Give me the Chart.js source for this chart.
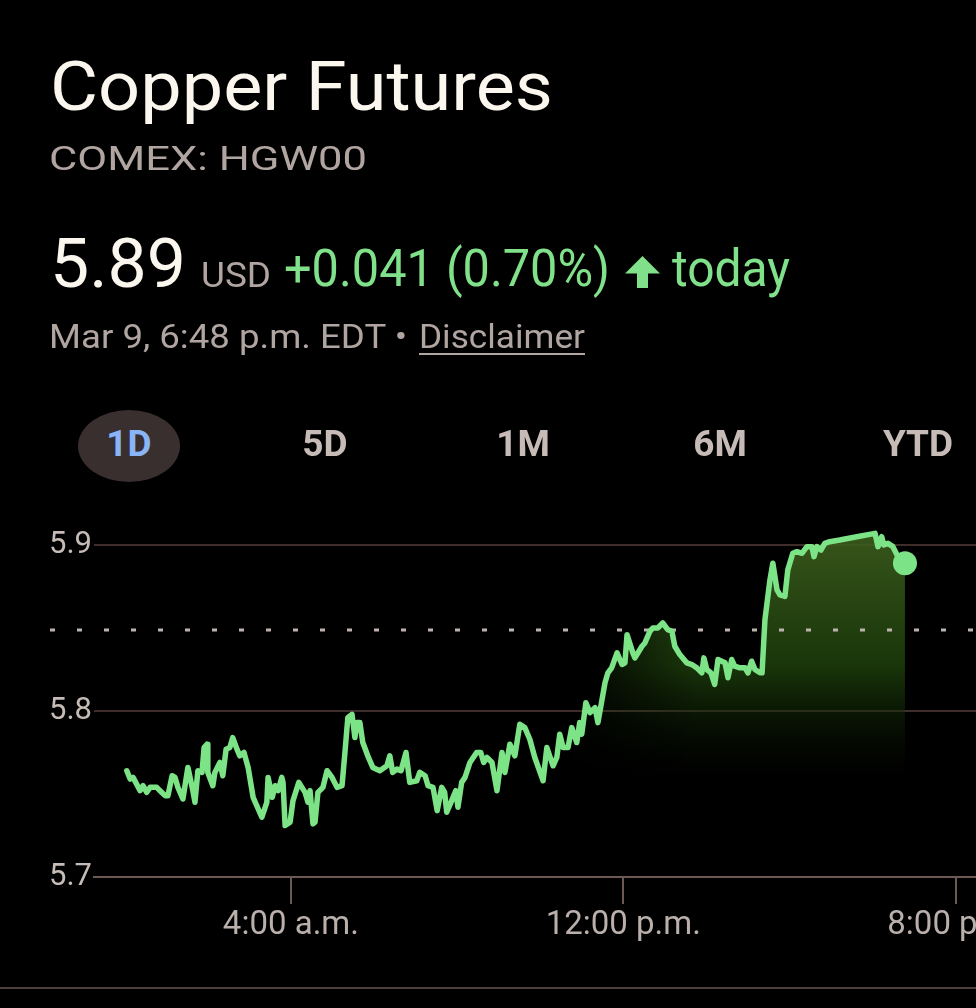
<!DOCTYPE html>
<html><head><meta charset="utf-8">
<script src="https://cdn.jsdelivr.net/npm/chart.js@4"></script>
<style>
html,body{margin:0;padding:0;background:#000;width:976px;height:1008px;overflow:hidden;font-family:Roboto,"Noto Sans",sans-serif;}
#wrap{position:relative;width:976px;height:1008px;}
#c{position:absolute;left:0;top:0;}
.t{position:absolute;white-space:nowrap;line-height:1;}
.gray{color:#b0a5a1;}
.tab{position:absolute;top:425px;font-size:37px;font-weight:700;color:#c6bbb6;line-height:1;transform:translateX(-50%);}
</style></head><body>
<div id="wrap">
<canvas id="c" width="976" height="1008"></canvas>
<div class="t fit" data-w="503" style="left:50px;top:53px;font-size:68px;color:#fbf6ee;">Copper Futures</div>
<div class="t gray fit" data-w="318" style="left:49px;top:141px;font-size:34px;">COMEX: HGW00</div>
<div class="t fit" data-w="136" style="left:50px;top:229px;font-size:69px;color:#fbf6ee;">5.89</div>
<div class="t gray fit" data-w="70" style="left:201px;top:258px;font-size:35px;">USD</div>
<div class="t fit" data-w="326" style="left:284px;top:243px;font-size:52px;color:#81e08a;">+0.041 (0.70%)</div>
<svg style="position:absolute;left:625px;top:256px" width="35" height="32" viewBox="0 0 35 32"><path d="M17.5 0 L35 17.5 L23 17.5 L23 32 L12 32 L12 17.5 L0 17.5 Z" fill="#81e08a"/></svg>
<div class="t fit" data-w="118" style="left:672px;top:243px;font-size:52px;color:#81e08a;">today</div>
<div class="t gray fit" data-w="358" style="left:49px;top:319px;font-size:34px;">Mar 9, 6:48 p.m. EDT •</div>
<div class="t gray fit" data-w="166" style="left:419px;top:319px;font-size:34px;text-decoration:underline;text-underline-offset:5px;text-decoration-thickness:2px;">Disclaimer</div>
<div style="position:absolute;left:78px;top:410px;width:102px;height:72px;border-radius:50%;background:#3a2f2f;"></div>
<div class="tab" style="left:129px;color:#8ab4f8;">1D</div>
<div class="tab" style="left:325px;">5D</div>
<div class="tab" style="left:523px;">1M</div>
<div class="tab" style="left:720px;">6M</div>
<div class="tab" style="left:918px;">YTD</div>
<div style="position:absolute;left:0;top:987px;width:976px;height:2px;background:#4d3f3c;"></div>
</div>
<script>
// ---- data ----
const times = [0.05,0.13,0.20,0.37,0.44,0.53,0.61,0.77,0.85,0.97,
1.04,1.14,1.21,1.28,1.40,1.52,1.64,1.69,1.76,1.86,
1.91,1.98,2.00,2.12,2.17,2.29,2.36,2.44,2.53,2.60,
2.70,2.77,2.87,2.97,3.09,3.30,3.42,3.45,3.55,3.62,
3.69,3.78,3.81,3.86,3.98,4.05,4.19,4.34,4.41,4.46,
4.53,4.58,4.65,4.77,4.87,4.99,5.11,5.23,5.30,5.37,
5.47,5.54,5.59,5.66,5.73,5.85,5.97,6.14,6.31,6.38,
6.45,6.55,6.65,6.77,6.86,7.03,7.10,7.23,7.30,7.42,
7.52,7.63,7.70,7.75,7.87,7.97,8.02,8.11,8.19,8.31,
8.47,8.57,8.64,8.72,8.84,8.96,9.08,9.15,9.27,9.39,
9.51,9.63,9.75,9.87,10.07,10.16,10.31,10.40,10.47,10.55,
10.67,10.76,10.88,10.95,11.00,11.10,11.20,11.32,11.39,11.56,
11.63,11.72,11.85,11.97,12.04,12.09,12.23,12.28,12.45,12.52,
12.64,12.71,12.83,12.95,13.07,13.17,13.24,13.36,13.53,13.65,
13.77,13.89,13.94,14.01,14.11,14.20,14.28,14.45,14.52,14.61,
14.68,14.81,14.93,15.00,15.09,15.17,15.29,15.34,15.41,15.53,
15.60,15.70,15.77,15.89,15.96,16.08,16.18,16.30,16.42,16.54,
16.59,16.66,16.76,16.85,16.97,17.21,17.62,18.06,18.13,18.22,
18.27,18.37,18.49,18.59,18.71,18.78];
const prices = [5.764,5.759,5.760,5.752,5.755,5.751,5.754,5.754,5.752,5.749,
5.749,5.761,5.760,5.754,5.747,5.766,5.752,5.745,5.764,5.763,
5.778,5.780,5.763,5.755,5.763,5.769,5.761,5.777,5.778,5.784,
5.777,5.773,5.775,5.766,5.748,5.736,5.745,5.760,5.748,5.755,
5.752,5.760,5.757,5.731,5.733,5.746,5.757,5.751,5.745,5.752,
5.732,5.733,5.751,5.754,5.764,5.760,5.754,5.755,5.775,5.796,
5.798,5.784,5.793,5.793,5.781,5.773,5.766,5.764,5.767,5.773,
5.763,5.765,5.764,5.775,5.757,5.758,5.763,5.761,5.755,5.754,
5.740,5.754,5.751,5.739,5.746,5.752,5.742,5.757,5.760,5.769,
5.775,5.775,5.769,5.772,5.769,5.752,5.775,5.763,5.780,5.773,
5.792,5.790,5.783,5.772,5.758,5.778,5.767,5.772,5.786,5.778,
5.778,5.790,5.781,5.793,5.786,5.805,5.799,5.802,5.793,5.817,
5.823,5.826,5.835,5.828,5.829,5.846,5.835,5.832,5.839,5.841,
5.848,5.850,5.850,5.853,5.849,5.848,5.839,5.834,5.829,5.828,
5.826,5.823,5.832,5.825,5.823,5.816,5.831,5.829,5.820,5.831,
5.827,5.826,5.826,5.823,5.830,5.825,5.823,5.823,5.855,5.879,
5.889,5.873,5.870,5.869,5.885,5.895,5.896,5.895,5.899,5.899,
5.893,5.899,5.897,5.901,5.902,5.903,5.905,5.907,5.899,5.905,
5.900,5.901,5.899,5.894,5.889,5.889];
const prevClose = 5.849;
const yTicks = [5.7, 5.8, 5.9];
const xTicks = [4, 12, 20];
const xTickLabels = ['4:00 a.m.', '12:00 p.m.', '8:00 p.m.'];
const xRange = [-0.74, 20.49];
const yRange = [5.7, 5.925];

// ---- fit text widths ----
document.querySelectorAll('.fit').forEach(el => {
  const w = el.getBoundingClientRect().width;
  const target = +el.dataset.w;
  el.style.transformOrigin = 'left top';
  el.style.transform = 'scaleX(' + (target / w) + ')';
});

// ---- fill pattern ----
let pattern = null;
function fillBg(ctx) {
  const chart = ctx.chart;
  if (!chart.chartArea || !chart.scales.y) return 'rgba(0,0,0,0)';
  if (pattern) return pattern;
  const xs = chart.scales.x, ys = chart.scales.y;
  const off = document.createElement('canvas');
  off.width = chart.width; off.height = chart.height;
  const g = off.getContext('2d');
  const yTop = ys.getPixelForValue(5.91), yEnd = ys.getPixelForValue(5.76);
  const vg = g.createLinearGradient(0, yTop, 0, yEnd);
  vg.addColorStop(0, 'rgba(62,96,30,0.9)');
  vg.addColorStop(0.55, 'rgba(30,64,12,0.85)');
  vg.addColorStop(1, 'rgba(8,22,3,0)');
  g.fillStyle = vg; g.fillRect(0, 0, off.width, off.height);
  g.globalCompositeOperation = 'destination-in';
  const hg = g.createLinearGradient(xs.getPixelForValue(10.4), 0, xs.getPixelForValue(13.8), 0);
  hg.addColorStop(0, 'rgba(0,0,0,0)');
  hg.addColorStop(1, 'rgba(0,0,0,1)');
  g.fillStyle = hg; g.fillRect(0, 0, off.width, off.height);
  pattern = chart.ctx.createPattern(off, 'no-repeat');
  return pattern;
}

const refLine = {
  id: 'refLine',
  beforeDatasetDraw(chart) {
    const ys = chart.scales.y, c = chart.ctx;
    const y = Math.round(ys.getPixelForValue(prevClose));
    c.save();
    c.strokeStyle = '#bdb3ae';
    c.lineWidth = 3;
    c.setLineDash([5, 22]);
    c.beginPath();
    c.moveTo(50, y); c.lineTo(chart.chartArea.right, y);
    c.stroke();
    c.restore();
  }
};

new Chart(document.getElementById('c'), {
  type: 'line',
  data: { datasets: [{
    data: times.map((t, i) => ({ x: t, y: prices[i] })),
    borderColor: '#7de387',
    borderWidth: 5.5,
    borderJoinStyle: 'round',
    borderCapStyle: 'round',
    tension: 0,
    fill: 'start',
    backgroundColor: fillBg,
    pointRadius: c => c.dataIndex === prices.length - 1 ? 12 : 0,
    pointBackgroundColor: '#7de387',
    pointBorderWidth: 0,
    pointHoverRadius: 0
  }]},
  options: {
    responsive: false,
    animation: false,
    events: [],
    layout: { autoPadding: false, padding: { left: 48, top: 503.5, right: 0, bottom: 0 } },
    plugins: { legend: { display: false }, tooltip: { enabled: false } },
    scales: {
      x: {
        type: 'linear', min: xRange[0], max: xRange[1],
        afterBuildTicks: s => { s.ticks = xTicks.map(v => ({ value: v })); },
        ticks: { callback: v => xTickLabels[xTicks.indexOf(v)], color: '#b9afab',
                 font: { family: 'Roboto', size: 33 }, padding: 2, maxRotation: 0, autoSkip: false },
        grid: { drawOnChartArea: false, drawTicks: true, tickLength: 27, color: '#6a5955', lineWidth: 2 },
        border: { display: true, color: '#6a5955', width: 2 },
        afterFit: s => { s.height = 131; s.paddingLeft = 0; s.paddingRight = 0; }
      },
      y: {
        min: yRange[0], max: yRange[1],
        afterBuildTicks: s => { s.ticks = yTicks.map(v => ({ value: v })); },
        ticks: { callback: v => v.toFixed(1), color: '#c5bcb7', font: { family: 'Roboto', size: 31 }, padding: 2 },
        grid: { color: '#3e2d2a', lineWidth: 2, drawTicks: false },
        border: { display: false },
        afterFit: s => { s.width = 46; s.paddingTop = 0; s.paddingBottom = 0; }
      }
    }
  },
  plugins: [refLine]
});
</script>
</body></html>
